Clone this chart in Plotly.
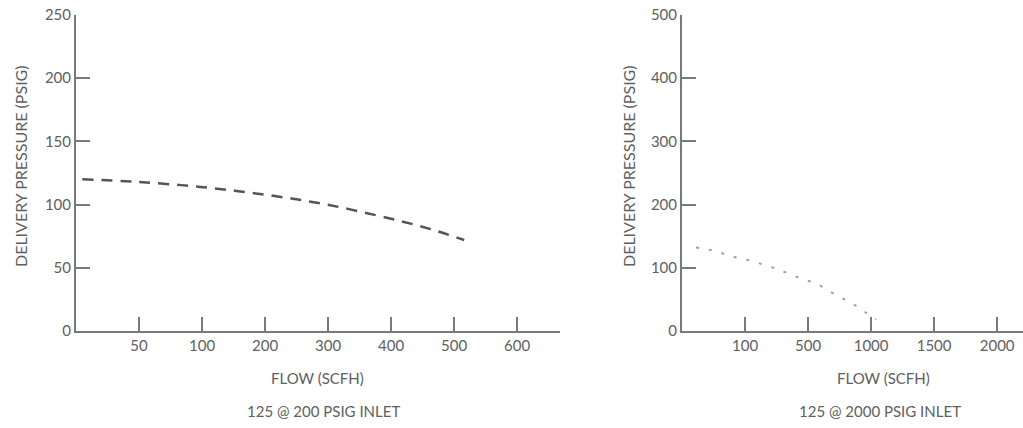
import plotly.graph_objects as go

# ---- data ----
left_tick_labels = ["50", "100", "200", "300", "400", "500", "600"]
left_tick_pos = [1, 2, 3, 4, 5, 6, 7]
left_curve_x = [0.1, 0.97, 1.97, 2.98, 3.98, 4.98, 5.6, 6.16]
left_curve_y = [120, 118, 114, 108, 100, 89, 81, 72]

right_tick_labels = ["100", "500", "1000", "1500", "2000"]
right_tick_pos = [1, 2, 3, 4, 5]
right_curve_x = [0.22, 0.46, 0.67, 0.87, 1.1, 1.29, 1.51, 1.71, 1.92, 2.13, 2.32, 2.52, 2.71, 2.9, 3.08]
right_curve_y = [132, 128, 122, 116, 111, 105, 98, 90, 82, 75, 64, 53, 43, 30, 18]

left_y_ticks = [0, 50, 100, 150, 200, 250]
right_y_ticks = [0, 100, 200, 300, 400, 500]

FONT = "Lato"
TXT = "#606060"
AX = "#7a7a7a"

fig = go.Figure()
fig.add_trace(go.Scatter(x=left_curve_x, y=left_curve_y, mode="lines",
                         line=dict(color="#555555", width=2.5, dash="11px,8px", shape="spline"),
                         xaxis="x", yaxis="y", showlegend=False))
fig.add_trace(go.Scatter(x=right_curve_x, y=right_curve_y, mode="lines",
                         line=dict(color="#a0a0a0", width=2, dash="3px,10px", shape="spline"),
                         xaxis="x2", yaxis="y2", showlegend=False))

W, H = 1023, 428
def fx(px): return px / W
def fy(py): return (H - py) / H

axis_common = dict(showline=True, linecolor=AX, linewidth=2, showgrid=False, zeroline=False,
                   ticks="inside", ticklen=14, tickwidth=2, tickcolor=AX, automargin=False,
                   tickfont=dict(family=FONT, size=15, color=TXT))

fig.update_layout(
    width=W, height=H, margin=dict(l=0, r=0, t=0, b=0, pad=0, autoexpand=False),
    paper_bgcolor="white", plot_bgcolor="white",
    xaxis=dict(domain=[fx(76), fx(560)], range=[0, 7.68], tickvals=left_tick_pos,
               ticktext=left_tick_labels, anchor="y", **axis_common),
    yaxis=dict(domain=[fy(331), fy(15)], range=[0, 250], tickvals=left_y_ticks,
               anchor="x", **axis_common),
    xaxis2=dict(domain=[fx(682), 1.0], range=[0, 5.41], tickvals=right_tick_pos,
                ticktext=right_tick_labels, anchor="y2", **axis_common),
    yaxis2=dict(domain=[fy(331), fy(15)], range=[0, 500], tickvals=right_y_ticks,
                anchor="x2", **axis_common),
)

def ann(text, px, py, angle=0, size=15):
    fig.add_annotation(text=text, x=fx(px), y=fy(py), xref="paper", yref="paper",
                       showarrow=False, textangle=angle,
                       font=dict(family=FONT, size=size, color=TXT),
                       xanchor="center", yanchor="middle")

ann("DELIVERY PRESSURE (PSIG)", 20, 166, angle=-90, size=16)
ann("DELIVERY PRESSURE (PSIG)", 628, 166, angle=-90, size=16)
ann("FLOW (SCFH)", 317, 378)
ann("FLOW (SCFH)", 883, 378)
ann("125 @ 200 PSIG INLET", 323, 411)
ann("125 @ 2000 PSIG INLET", 880, 411)

fig.write_html("out.html", config={"displayModeBar": False},
               post_script="document.body.style.margin='0';document.body.style.overflow='hidden';")
